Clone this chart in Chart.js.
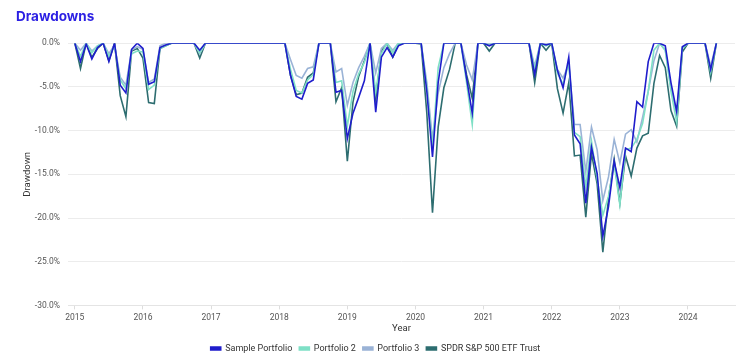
<!DOCTYPE html>
<html>
<head>
<meta charset="utf-8">
<script src="https://cdn.jsdelivr.net/npm/chart.js@4.4.1/dist/chart.umd.min.js"></script>
<style>
  html, body { margin: 0; padding: 0; background: #fff; }
  #wrap { width: 740px; height: 360px; }
</style>
</head>
<body>
<div id="wrap"><canvas id="drawdowns" width="740" height="360"></canvas></div>
<script>
// month-end labels, Dec 2014 .. May 2024
const months = [];
for (let y = 2014, m = 12; y < 2024 || (y === 2024 && m <= 5); ) {
  months.push(`${y}-${String(m).padStart(2, "0")}`);
  m++;
  if (m > 12) { m = 1; y++; }
}

const yearTicks = [2015, 2016, 2017, 2018, 2019, 2020, 2021, 2022, 2023, 2024];
const drawdownTicks = [0, -5, -10, -15, -20, -25, -30];

// drawdown in %, one value per month
const samplePortfolio = [
  0, -2.1, -0.1, -1.8, -0.5, 0, -2.1, 0, -4.8, -5.7, -0.7, 0, -0.6,
  -4.7, -4.4, -0.5, -0.2, 0, 0, 0, 0, 0, -0.8, 0, 0,
  0, 0, 0, 0, 0, 0, 0, 0, 0, 0, 0, 0,
  0, -3.7, -6.1, -6.4, -4.6, -4.2, 0, 0, 0, -5.6, -5.4, -10.9,
  -8.0, -6.2, -4.3, 0, -7.9, -1.6, -0.5, -1.6, -0.3, 0, 0, 0,
  0, -5.5, -13.0, -4.5, 0, 0, 0, 0, -4.0, -8.0, 0, 0,
  -0.3, 0, 0, 0, 0, 0, 0, 0, -3.6, 0, -0.2, 0,
  -3.1, -5.1, -1.6, -10.5, -11.5, -18.3, -11.9, -14.9, -22.1, -18.7, -13.5, -16.5,
  -12.0, -12.4, -6.7, -7.3, -2.1, 0, 0, -0.3, -4.5, -7.8, -0.4, 0,
  0, 0, 0, -3.0, 0,
];

const portfolio2 = [
  0, -1.5, 0, -1.1, -0.3, 0, -1.5, -0.3, -4.2, -5.2, -1.2, -0.9, -1.0,
  -5.3, -4.8, -0.6, -0.3, 0, 0, 0, 0, 0, -1.1, 0, 0,
  0, 0, 0, 0, 0, 0, 0, 0, 0, 0, 0, 0,
  0, -3.0, -5.4, -5.7, -4.2, -3.6, 0, 0, 0, -4.5, -4.3, -9.5,
  -5.5, -3.5, -2.2, 0, -5.6, -1.2, 0, -1.1, 0, 0, 0, 0,
  0, -5.0, -12.0, -2.8, 0, 0, 0, 0, -4.5, -9.3, 0, 0,
  -0.2, 0, 0, 0, 0, 0, 0, 0, -3.0, 0, -0.3, 0,
  -3.4, -4.7, -2.3, -10.2, -10.7, -16.5, -11.2, -15.5, -19.7, -17.5, -13.8, -18.5,
  -12.2, -12.0, -11.0, -9.2, -5.5, -0.8, 0, -0.8, -5.5, -9.0, -0.6, 0,
  0, 0, 0, -3.3, 0,
];

const portfolio3 = [
  0, -0.8, 0, -0.9, -0.3, 0, -1.2, -0.2, -3.9, -4.8, -0.8, -0.4, -0.7,
  -4.5, -4.1, -0.3, 0, 0, 0, 0, 0, 0, -1.2, 0, 0,
  0, 0, 0, 0, 0, 0, 0, 0, 0, 0, 0, 0,
  0, -1.9, -3.7, -4.0, -2.9, -2.7, 0, 0, 0, -3.3, -2.9, -7.1,
  -4.5, -2.8, -1.5, 0, -3.4, -0.6, 0, -0.8, 0, 0, 0, 0,
  0, -4.5, -11.0, -5.7, -2.8, -1.2, 0, 0, -2.5, -4.2, 0, 0,
  0, 0, 0, 0, 0, 0, 0, 0, -2.6, 0, 0, 0,
  -3.0, -4.0, -2.4, -9.3, -9.3, -14.7, -9.6, -12.2, -18.0, -15.3, -11.0, -13.7,
  -10.4, -9.9, -11.3, -8.5, -5.5, -2.0, 0, -0.8, -5.0, -8.2, -0.5, 0,
  0, 0, 0, -2.6, 0,
];

const spdrSp500 = [
  0, -2.9, 0, -1.6, -0.6, 0, -2.0, 0, -6.0, -8.4, -0.9, -0.6, -1.7,
  -6.8, -6.9, -0.6, -0.3, 0, 0, 0, 0, 0, -1.7, 0, 0,
  0, 0, 0, 0, 0, 0, 0, 0, 0, 0, 0, 0,
  0, -3.7, -5.9, -5.7, -3.9, -3.4, 0, 0, 0, -6.7, -5.1, -13.5,
  -6.7, -3.8, -2.0, 0, -6.4, -0.9, 0, -1.6, -0.1, 0, 0, 0,
  -0.1, -8.0, -19.4, -9.6, -5.1, -3.0, 0, 0, -3.6, -6.3, 0, 0,
  -0.9, 0, 0, 0, 0, 0, 0, 0, -4.5, 0, -0.8, 0,
  -5.2, -8.0, -4.5, -12.9, -12.8, -19.9, -12.6, -16.1, -23.9, -17.8, -13.3, -18.3,
  -12.9, -15.2, -12.0, -10.6, -10.3, -4.6, -1.4, -2.8, -7.7, -9.5, -1.0, 0,
  0, 0, 0, -4.0, 0,
];

const seriesNames = ["Sample Portfolio", "Portfolio 2", "Portfolio 3", "SPDR S&P 500 ETF Trust"];
const seriesColors = ["#1f1dcc", "#7fe0c6", "#9ab3d6", "#2d6d70"];

function monthToYear(label) {
  const [y, m] = label.split("-").map(Number);
  return y + m / 12;
}

function toPoints(values) {
  return values.map((v, i) => ({ x: monthToYear(months[i]), y: v }));
}

const allSeries = [samplePortfolio, portfolio2, portfolio3, spdrSp500];

const datasets = allSeries.map((values, i) => ({
  label: seriesNames[i],
  data: toPoints(values),
  borderColor: seriesColors[i],
  backgroundColor: seriesColors[i],
  borderWidth: 1.6,
  pointRadius: 0,
  tension: 0,
}));

const tickColor = "#555";
const font = "Roboto, 'Liberation Sans', sans-serif";
const titleFont = "Inter, 'DejaVu Sans', sans-serif";

new Chart(document.getElementById("drawdowns"), {
  type: "line",
  data: { datasets },
  options: {
    responsive: false,
    animation: false,
    layout: { padding: { left: 16, right: 5, bottom: -3 } },
    plugins: {
      title: {
        display: true,
        text: "Drawdowns",
        align: "start",
        color: "#2b1fe3",
        font: { family: titleFont, size: 13.5, weight: "700" },
        padding: { top: 9, bottom: 18 },
      },
      legend: {
        position: "bottom",
        labels: {
          boxWidth: 10,
          boxHeight: 3,
          color: "#333",
          font: { family: font, size: 9 },
          padding: 7,
        },
      },
      tooltip: { enabled: false },
    },
    scales: {
      x: {
        type: "linear",
        min: 2014.9,
        max: 2024.69,
        afterBuildTicks: (axis) => {
          axis.ticks = yearTicks.map((value) => ({ value }));
        },
        ticks: {
          color: tickColor,
          font: { family: font, size: 8.5 },
          maxRotation: 0,
          padding: 3,
          callback: (value) => String(value),
        },
        grid: { drawOnChartArea: false, drawTicks: true, tickLength: 4, color: "#ddd" },
        border: { color: "#e4e4e4" },
        title: {
          display: true,
          text: "Year",
          color: "#333",
          font: { family: font, size: 9.5 },
          padding: { top: -3, bottom: 3 },
        },
      },
      y: {
        min: -30,
        max: 0,
        afterBuildTicks: (axis) => {
          axis.ticks = drawdownTicks.map((value) => ({ value }));
        },
        afterFit: (axis) => {
          axis.width = 52;
        },
        ticks: {
          color: tickColor,
          font: { family: font, size: 8.5 },
          padding: 8,
          callback: (value) => `${value.toFixed(1)}%`,
        },
        grid: { color: "#ececec", drawTicks: false },
        border: { display: false },
        title: {
          display: true,
          text: "Drawdown",
          color: "#333",
          font: { family: font, size: 9.5 },
          padding: { top: 6, bottom: 4 },
        },
      },
    },
  },
});
</script>
</body>
</html>
